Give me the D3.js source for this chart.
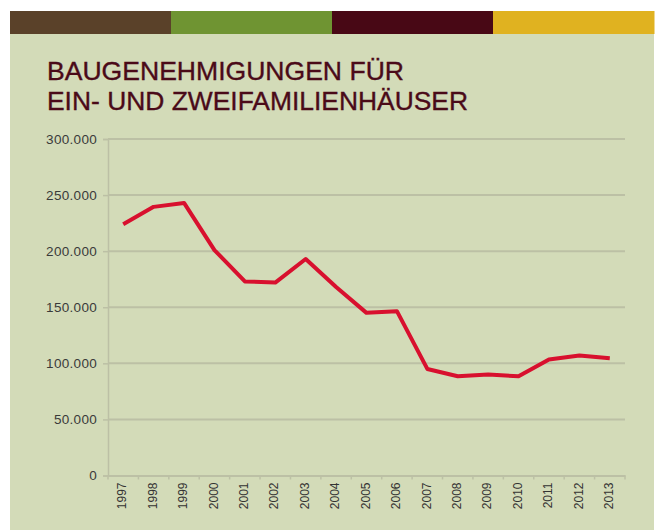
<!DOCTYPE html>
<html><head><meta charset="utf-8">
<script src="https://cdn.jsdelivr.net/npm/d3@7"></script>
<style>body{margin:0;background:#fff;}svg{display:block;}</style>
</head><body>
<script>
const years = ["1997","1998","1999","2000","2001","2002","2003","2004","2005","2006","2007","2008","2009","2010","2011","2012","2013"];
const permits = [224000,239500,243000,201000,173000,172000,193000,168000,145000,146500,95000,88500,90000,88500,103500,107000,104500];
const yTicks = [0,50000,100000,150000,200000,250000,300000];
const titleLines = ["BAUGENEHMIGUNGEN FÜR","EIN- UND ZWEIFAMILIENHÄUSER"];
const stripeColors = ["#5a4129","#6f9432","#480815","#e0b220"];

const W=657,H=530;
const svg=d3.select("body").append("svg").attr("width",W).attr("height",H);
svg.append("rect").attr("x",10).attr("y",34).attr("width",644).attr("height",H-34).attr("fill","#d3dbb8");
const sx=d3.scaleBand().domain(d3.range(stripeColors.length)).range([10,654]);
svg.selectAll(".stripe").data(stripeColors).join("rect")
  .attr("x",(d,i)=>sx(i)).attr("y",11).attr("width",sx.bandwidth()+0.5).attr("height",23).attr("fill",d=>d);
const titleWidths=[357,421];
svg.selectAll(".title").data(titleLines).join("text")
  .attr("x",47).attr("y",(d,i)=>80+i*30)
  .attr("font-family","Liberation Sans, Arial, sans-serif").attr("font-size",25)
  .attr("textLength",(d,i)=>titleWidths[i]).attr("lengthAdjust","spacingAndGlyphs")
  .attr("fill","#4a0a18").attr("stroke","#4a0a18").attr("stroke-width",0.35).text(d=>d);

const x=d3.scaleBand().domain(years).range([108,625]);
const y=d3.scaleLinear().domain([0,300000]).range([475.5,139]);
const fmt=d=>d3.format(",")(d).replace(/,/g,".");
const g=svg.append("g");
g.selectAll(".grid").data(yTicks.slice(1)).join("line")
  .attr("x1",108).attr("x2",625).attr("y1",d=>y(d)).attr("y2",d=>y(d))
  .attr("stroke","#bcc0a5").attr("stroke-width",2);
const ya=g.append("g").attr("transform","translate(108,0)")
  .call(d3.axisLeft(y).tickValues(yTicks).tickFormat(fmt).tickSize(5).tickPadding(6));
ya.select(".domain").attr("stroke","#bcc0a5").attr("stroke-width",1.5);
ya.selectAll(".tick line").attr("stroke","#bcc0a5").attr("stroke-width",1.5);
ya.selectAll("text").attr("font-family","Liberation Sans, Arial, sans-serif").attr("font-size",13.5).attr("fill","#3a3a3a").attr("letter-spacing","0.3");
const xa=g.append("g").attr("transform",`translate(0,${y(0)})`)
  .call(d3.axisBottom(x).tickSize(0).tickPadding(5));
xa.select(".domain").attr("stroke","#bcc0a5").attr("stroke-width",2);
xa.selectAll(".sep").data(years.concat(["end"])).join("line")
  .attr("x1",(d,i)=>108+i*x.step()).attr("x2",(d,i)=>108+i*x.step())
  .attr("y1",0).attr("y2",4).attr("stroke","#bcc0a5").attr("stroke-width",1.5);
xa.selectAll(".tick text").attr("transform","rotate(-90)").attr("text-anchor","end")
  .attr("x",-7).attr("y",-1).attr("dy","0.35em")
  .attr("font-family","Liberation Sans, Arial, sans-serif").attr("font-size",12).attr("fill","#333");
const line=d3.line().x((d,i)=>x(years[i])+x.bandwidth()/2).y(d=>y(d));
g.append("path").datum(permits).attr("d",line).attr("fill","none")
  .attr("stroke","#d8102e").attr("stroke-width",4).attr("stroke-linejoin","round").attr("stroke-linecap","butt");
</script>
</body></html>
